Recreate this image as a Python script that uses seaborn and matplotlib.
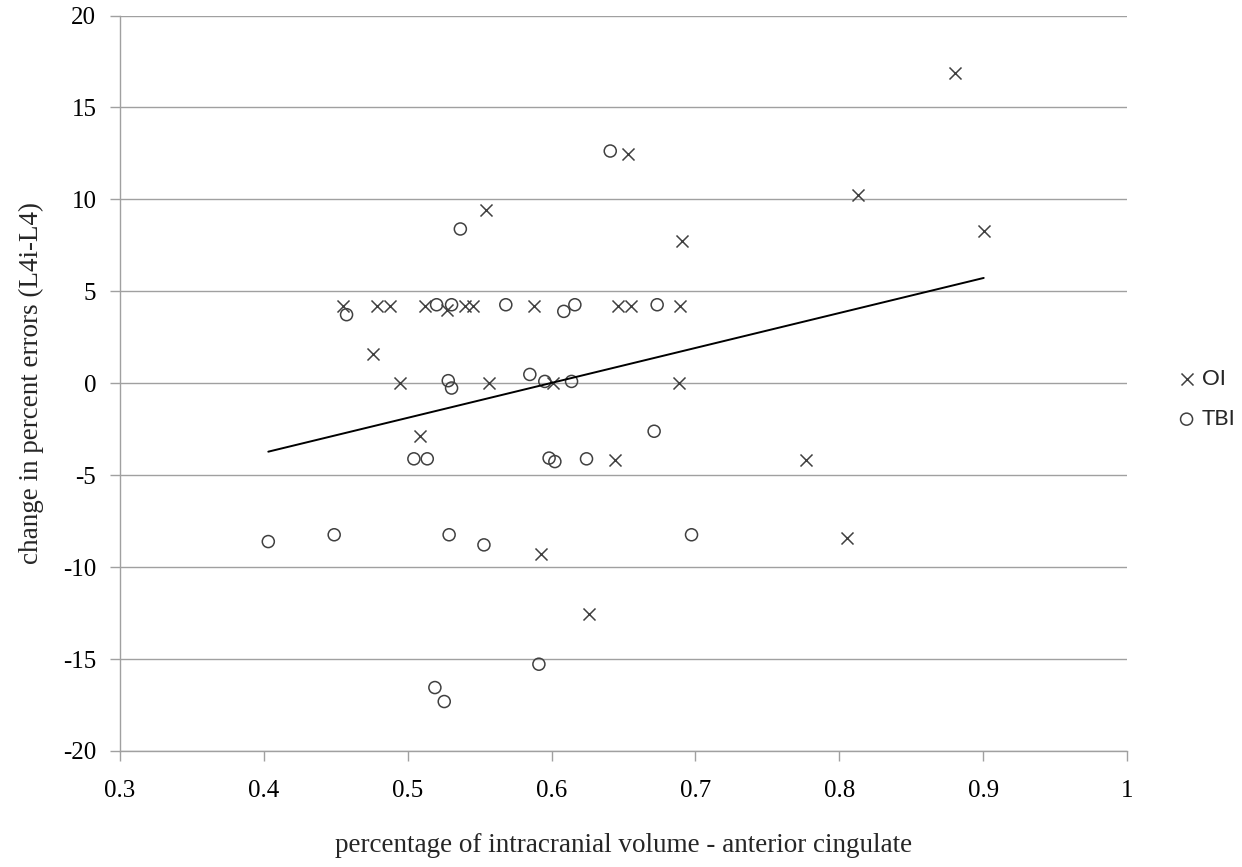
import matplotlib
matplotlib.use('Agg')
import matplotlib.pyplot as plt
import seaborn as sns
import numpy as np
import pandas as pd

# OI group (crosses)
oi_x = [0.4548, 0.4784, 0.4876, 0.5120, 0.5270, 0.5397, 0.5455, 0.5879, 0.6463, 0.6549, 0.6896,
        0.4756, 0.4946, 0.5564, 0.6011, 0.6887, 0.5085, 0.6440, 0.7767, 0.8057,
        0.5930, 0.6259, 0.8803, 0.6532, 0.8133, 0.5546, 0.6904, 0.9004]
oi_y = [4.18, 4.18, 4.18, 4.18, 4.0, 4.18, 4.18, 4.18, 4.18, 4.18, 4.18,
        1.60, 0.0, 0.0, 0.0, 0.0, -2.89, -4.20, -4.20, -8.39,
        -9.29, -12.54, 16.86, 12.48, 10.22, 9.43, 7.76, 8.28]

# TBI group (circles)
tbi_x = [0.4575, 0.5201, 0.5305, 0.5682, 0.6085, 0.6162, 0.6734,
         0.5282, 0.5305, 0.5849, 0.5953, 0.6139,
         0.5043, 0.5136, 0.5983, 0.6023, 0.6243, 0.6713,
         0.4031, 0.4489, 0.5288, 0.5530, 0.6973,
         0.5912, 0.5189, 0.5254, 0.6408, 0.5366]
tbi_y = [3.73, 4.27, 4.27, 4.27, 3.91, 4.27, 4.27,
         0.14, -0.26, 0.48, 0.10, 0.10,
         -4.11, -4.11, -4.07, -4.26, -4.11, -2.61,
         -8.61, -8.24, -8.24, -8.79, -8.24,
         -15.28, -16.55, -17.31, 12.63, 8.39]

# linear trendline
trend_slope = 19.0
trend_intercept = -11.38

x_ticks = [0.3, 0.4, 0.5, 0.6, 0.7, 0.8, 0.9, 1.0]
x_ticklabels = ['0.3', '0.4', '0.5', '0.6', '0.7', '0.8', '0.9', '1']
y_ticks = [-20, -15, -10, -5, 0, 5, 10, 15, 20]

sns.set_style('white')
plt.rcParams['font.family'] = ['Liberation Serif', 'DejaVu Serif']
plt.rcParams['axes.unicode_minus'] = False

grey = '#a0a0a0'
mark = '#404040'

fig = plt.figure(figsize=(12.42, 8.67), dpi=100)
ax = fig.add_axes([0.0966, 0.1338, 0.8108, 0.8483])

sns.scatterplot(x=oi_x, y=oi_y, marker='x', s=75, color=mark, linewidth=1.1, label='OI', ax=ax)
sns.scatterplot(x=tbi_x, y=tbi_y, marker='o', s=75, color=mark, facecolor='none',
                edgecolor=mark, linewidth=1.1, label='TBI', ax=ax)

all_x = np.array(oi_x + tbi_x)
tx = np.array([all_x.min(), all_x.max()])
sns.lineplot(x=tx, y=trend_slope * tx + trend_intercept, color='black', linewidth=1.4, ax=ax)

ax.set_xlim(0.3, 1.0)
ax.set_ylim(-20, 20)
ax.set_xticks(x_ticks)
ax.set_xticklabels(x_ticklabels)
ax.set_yticks(y_ticks)
ax.yaxis.grid(True, color=grey, linewidth=1.0)
ax.xaxis.grid(False)
ax.set_axisbelow(True)

for s in ['top', 'right']:
    ax.spines[s].set_visible(False)
for s in ['left', 'bottom']:
    ax.spines[s].set_color(grey)
    ax.spines[s].set_linewidth(1.0)

ax.tick_params(axis='both', which='major', direction='out', length=7, width=1.0, color=grey,
               labelsize=18, labelcolor='black')
ax.tick_params(axis='x', pad=14, bottom=True)
ax.tick_params(axis='y', pad=10, left=True)

ax.set_xlabel('percentage of intracranial volume - anterior cingulate', fontsize=19.5, labelpad=22)
ax.set_ylabel('change in percent errors (L4i-L4)', fontsize=19.5, labelpad=14)

ax.legend(loc='center left', bbox_to_anchor=(0.950, 0.5398), bbox_transform=fig.transFigure,
          frameon=False, handlelength=0.6, handletextpad=0.4, borderpad=0, borderaxespad=0,
          labelspacing=0.9, prop={'family': ['Lato', 'DejaVu Sans'], 'size': 16})

fig.savefig('out.png', dpi=100)
